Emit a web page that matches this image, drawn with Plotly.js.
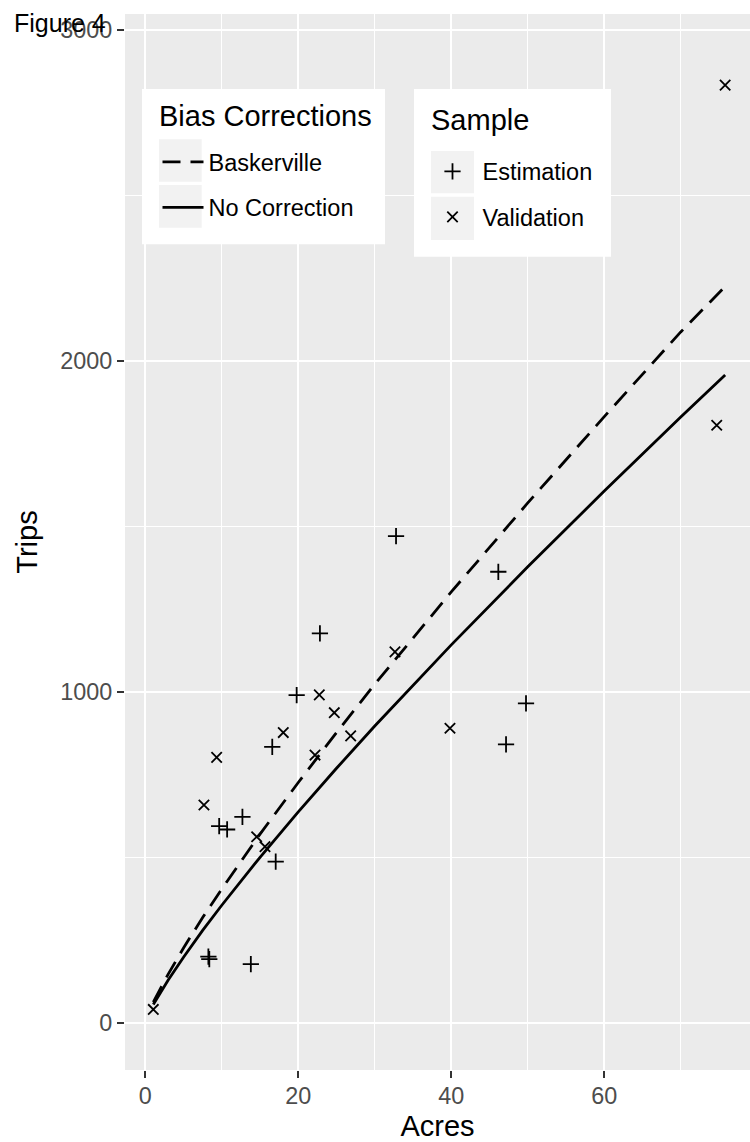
<!DOCTYPE html>
<html>
<head>
<meta charset="utf-8">
<script src="https://cdn.plot.ly/plotly-3.0.1.min.js"></script>
<style>html,body{margin:0;padding:0;background:#fff;}#chart{width:750px;height:1142px;}</style>
</head>
<body>
<div id="chart"></div>
<script>
// Sample points
const estAcres = [22.83, 19.79, 16.6, 12.7, 9.66, 10.7, 17.05, 8.25, 8.37, 13.8, 32.78, 46.15, 49.77, 47.16];
const estTrips = [1177, 990, 834, 622, 594, 584, 487, 200, 192, 177, 1471, 1363, 965, 841];
const valAcres = [22.75, 24.71, 26.85, 18.04, 9.33, 7.67, 14.56, 15.65, 1.05, 32.64, 39.83, 75.8, 74.7, 22.19];
const valTrips = [991, 937, 867, 877, 802, 658, 562, 532, 40, 1121, 890, 2834, 1806, 809];
// Fitted curves
const curveAcres = [1.05, 2, 3, 5, 7.5, 10, 15, 20, 25, 30, 40, 50, 60, 70, 75.8];
const noCorrection = [55, 91, 129, 198, 279, 355, 500, 637, 769, 897, 1142, 1378, 1607, 1831, 1958];
const baskerville = [62, 104, 147, 226, 318, 404, 570, 726, 877, 1023, 1302, 1571, 1832, 2088, 2225];
const xTicks = [0, 20, 40, 60];
const yTicks = [0, 1000, 2000, 3000];
const legendTitles = ['Bias Corrections', 'Sample'];

const FONT = 'Liberation Sans, Arial, Helvetica, sans-serif';
const W = 750, H = 1142, mL = 125, mR = 0, mT = 14, mB = 72;
const pw = W - mL - mR, ph = H - mT - mB;
const fx = x => (x - mL) / pw;
const fy = y => 1 - (y - mT) / ph;

const traces = [
  {x: curveAcres, y: baskerville, type: 'scatter', mode: 'lines', name: 'Baskerville',
   line: {color: '#000', width: 2.8, dash: '18px,10px'}, legend: 'legend', legendgroup: 'a'},
  {x: curveAcres, y: noCorrection, type: 'scatter', mode: 'lines', name: 'No Correction',
   line: {color: '#000', width: 2.8}, legend: 'legend', legendgroup: 'b'},
  {x: estAcres, y: estTrips, type: 'scatter', mode: 'markers', name: 'Estimation',
   marker: {symbol: 'cross-thin', size: 11.6, color: '#000', line: {width: 1.8, color: '#000'}},
   legend: 'legend2', legendgroup: 'c'},
  {x: valAcres, y: valTrips, type: 'scatter', mode: 'markers', name: 'Validation',
   marker: {symbol: 'x-thin', size: 10.4, color: '#000', line: {width: 1.8, color: '#000'}},
   legend: 'legend2', legendgroup: 'd'}
];

const rect = (x0, y0, x1, y1, color) => ({type: 'rect', xref: 'paper', yref: 'paper',
  x0: fx(x0), x1: fx(x1), y0: fy(y1), y1: fy(y0), fillcolor: color, line: {width: 0}, layer: 'above'});

const layout = {
  width: W, height: H,
  margin: {l: mL, r: mR, t: mT, b: mB, pad: 0},
  paper_bgcolor: '#fff', plot_bgcolor: '#EBEBEB',
  font: {family: FONT, color: '#000'},
  title: {text: 'Figure 4', font: {size: 25, color: '#000', family: FONT},
    xref: 'container', yref: 'container', x: 14 / W, xanchor: 'left', y: 1 - 23 / H, yanchor: 'middle'},
  xaxis: {
    range: [-2.65, 79.05], tickmode: 'array', tickvals: xTicks, ticktext: xTicks.map(String),
    ticks: 'outside', ticklen: 7, tickwidth: 2, tickcolor: '#333333', ticklabelstandoff: -2,
    tickfont: {size: 23.4, color: '#4D4D4D', family: FONT},
    showgrid: true, gridcolor: '#FFFFFF', gridwidth: 2.2, zeroline: false, showline: false,
    minor: {tickmode: 'array', tickvals: [10, 30, 50, 70], showgrid: true, gridcolor: '#FFFFFF', gridwidth: 1.1, ticks: ''},
    title: {text: 'Acres', font: {size: 29, color: '#000', family: FONT}, standoff: 12},
    automargin: false
  },
  yaxis: {
    range: [-143, 3049], tickmode: 'array', tickvals: yTicks, ticktext: yTicks.map(String),
    ticks: 'outside', ticklen: 7, tickwidth: 2, tickcolor: '#333333',
    tickfont: {size: 23.4, color: '#4D4D4D', family: FONT},
    showgrid: true, gridcolor: '#FFFFFF', gridwidth: 2.2, zeroline: false, showline: false,
    minor: {tickmode: 'array', tickvals: [500, 1500, 2500], showgrid: true, gridcolor: '#FFFFFF', gridwidth: 1.1, ticks: ''},
    title: {text: 'Trips', font: {size: 29, color: '#000', family: FONT}, standoff: 14},
    automargin: false
  },
  showlegend: true,
  legend: {
    x: fx(157.5), y: fy(140), xanchor: 'left', yanchor: 'top', bgcolor: 'rgba(0,0,0,0)', borderwidth: 0,
    font: {size: 23.5, color: '#000', family: FONT}, tracegroupgap: 12, itemwidth: 41
  },
  legend2: {
    x: fx(422.5), y: fy(149.5), xanchor: 'left', yanchor: 'top', bgcolor: 'rgba(0,0,0,0)', borderwidth: 0,
    font: {size: 23.5, color: '#000', family: FONT}, tracegroupgap: 12, itemwidth: 50
  },
  annotations: [
    {text: legendTitles[0], xref: 'paper', yref: 'paper', x: fx(157.5), y: fy(116.5), xanchor: 'left', yanchor: 'middle',
     showarrow: false, borderpad: 0, font: {size: 29, color: '#000', family: FONT}},
    {text: legendTitles[1], xref: 'paper', yref: 'paper', x: fx(429.5), y: fy(120), xanchor: 'left', yanchor: 'middle',
     showarrow: false, borderpad: 0, font: {size: 29, color: '#000', family: FONT}}
  ],
  shapes: [
    rect(142, 89, 385, 244.3, '#FFFFFF'),
    rect(159, 139.3, 201.7, 181.7, '#F2F2F2'),
    rect(159, 185, 201.7, 227.7, '#F2F2F2'),
    rect(414, 89, 611, 256.7, '#FFFFFF'),
    rect(431, 151, 474, 193.3, '#F2F2F2'),
    rect(431, 196.7, 474, 240, '#F2F2F2')
  ]
};

Plotly.newPlot('chart', traces, layout, {displayModeBar: false, staticPlot: true});
</script>
</body>
</html>
